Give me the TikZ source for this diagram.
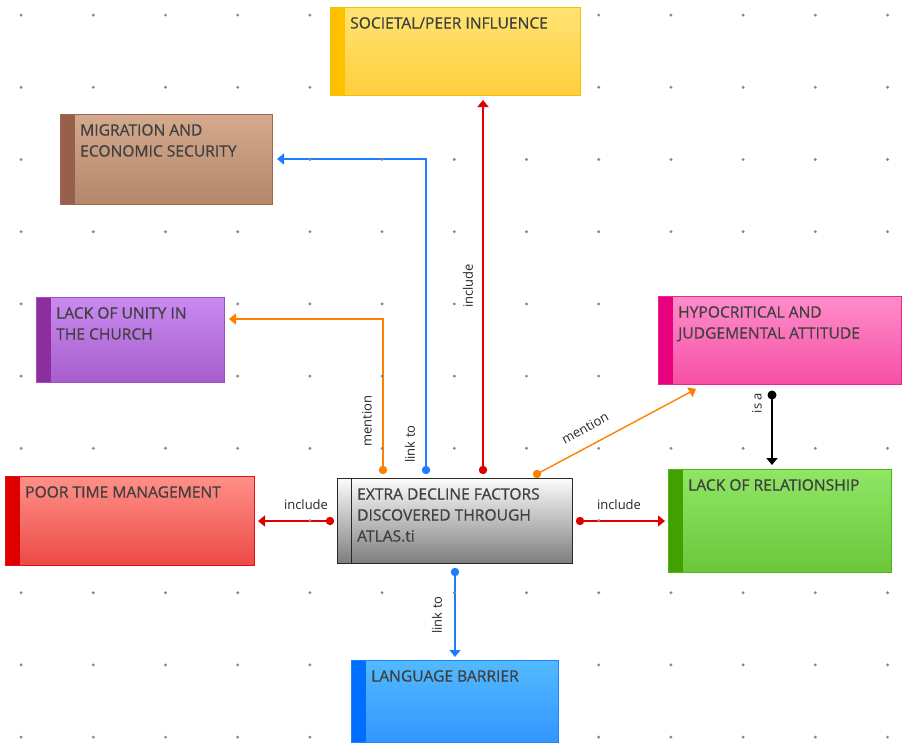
\documentclass[tikz,border=0pt]{standalone}
\usepackage{fontspec}
\setmainfont{Open Sans}
\newfontfamily\ttlfont{Open Sans}[FakeBold=0.6]
\usetikzlibrary{calc,arrows.meta}
\pgfdeclarelayer{lines}
\pgfdeclarelayer{grid}
\pgfsetlayers{lines,grid,main}
\definecolor{txtgray}{RGB}{64,64,64}
\definecolor{lnorange}{RGB}{255,128,0}
\definecolor{lnblue}{RGB}{30,125,255}
\definecolor{lnred}{RGB}{220,0,0}
\definecolor{dotgray}{RGB}{135,135,135}
% yellow
\definecolor{yB}{RGB}{245,192,0}\definecolor{yT}{RGB}{255,228,115}\definecolor{yL}{RGB}{255,206,60}\definecolor{yS}{RGB}{255,192,0}
% brown
\definecolor{bB}{RGB}{165,100,80}\definecolor{bT}{RGB}{212,170,142}\definecolor{bL}{RGB}{180,134,108}\definecolor{bS}{RGB}{150,96,76}
% purple
\definecolor{pB}{RGB}{160,80,190}\definecolor{pT}{RGB}{202,138,242}\definecolor{pL}{RGB}{166,94,202}\definecolor{pS}{RGB}{140,45,160}
% pink
\definecolor{kB}{RGB}{235,40,140}\definecolor{kT}{RGB}{255,140,202}\definecolor{kL}{RGB}{245,80,165}\definecolor{kS}{RGB}{232,0,126}
% red
\definecolor{rB}{RGB}{222,20,20}\definecolor{rT}{RGB}{255,144,136}\definecolor{rL}{RGB}{236,74,70}\definecolor{rS}{RGB}{222,0,0}
% gray
\definecolor{gB}{RGB}{40,40,40}\definecolor{gT}{RGB}{252,252,252}\definecolor{gL}{RGB}{125,125,125}
% green
\definecolor{nB}{RGB}{80,180,20}\definecolor{nT}{RGB}{142,230,100}\definecolor{nL}{RGB}{110,198,60}\definecolor{nS}{RGB}{66,160,0}
% blue
\definecolor{uB}{RGB}{30,130,255}\definecolor{uT}{RGB}{82,186,255}\definecolor{uL}{RGB}{50,150,255}\definecolor{uS}{RGB}{0,110,255}
\tikzset{
  box/.style n args={4}{rectangle, inner sep=0pt, anchor=north west, line width=1pt,
    draw=#1, top color=#2, bottom color=#3,
    path picture={\fill[#4] (path picture bounding box.north west) rectangle ([xshift=14pt]path picture bounding box.south west);}},
  ttl/.style={anchor=north west, xshift=20pt, yshift=-10pt, align=left, inner sep=0pt,
    font=\ttlfont\fontsize{15.6}{21}\selectfont, text=txtgray},
  elbl/.style={inner sep=0pt, font=\fontsize{13}{15}\selectfont, text=black!85},
  conn/.style={line width=1.4pt, -{Triangle[length=7pt,width=11pt]}},
}
\begin{document}
\begin{tikzpicture}[x=1pt,y=-1pt]
\useasboundingbox (0,0) rectangle (902,742);
% nodes
\node[box={yB}{yT}{yL}{yS},
  minimum width=250pt, minimum height=88pt, label={[ttl]north west:SOCIETAL/PEER INFLUENCE}] (soc) at (330,7) {};
\node[box={bB}{bT}{bL}{bS},
  minimum width=212pt, minimum height=90pt, label={[ttl]north west:MIGRATION AND\\ECONOMIC SECURITY}] (mig) at (60,114) {};
\node[box={pB}{pT}{pL}{pS},
  minimum width=188pt, minimum height=85pt, label={[ttl]north west:LACK OF UNITY IN\\THE CHURCH}] (uni) at (36,297) {};
\node[box={kB}{kT}{kL}{kS},
  minimum width=243pt, minimum height=88pt, label={[ttl]north west:HYPOCRITICAL AND\\JUDGEMENTAL ATTITUDE}] (hyp) at (658,296) {};
\node[box={rB}{rT}{rL}{rS},
  minimum width=249pt, minimum height=89pt, label={[ttl]north west:POOR TIME MANAGEMENT}] (poor) at (5,476) {};
\node[box={gB}{gT}{gL}{gT},
  minimum width=235pt, minimum height=85pt,
  path picture={\draw[line width=1.2pt, gB] ([xshift=14pt]path picture bounding box.north west) -- ([xshift=14pt]path picture bounding box.south west);},
  label={[ttl]north west:EXTRA DECLINE FACTORS\\DISCOVERED THROUGH\\ATLAS.ti}] (ctr) at (337,478) {};
\node[box={nB}{nT}{nL}{nS},
  minimum width=223pt, minimum height=103pt, label={[ttl]north west:LACK OF RELATIONSHIP}] (rel) at (668,469) {};
\node[box={uB}{uT}{uL}{uS},
  minimum width=207pt, minimum height=82pt, label={[ttl]north west:LANGUAGE BARRIER}] (lang) at (351,660) {};
% connector coordinates
\coordinate (s1) at ($(ctr.north west)+(46,-8)$);
\coordinate (e1) at ($(uni.north east)+(4,22)$);
\coordinate (s2) at ($(ctr.north west)+(89,-8)$);
\coordinate (e2) at ($(mig.north east)+(4,45)$);
\coordinate (s3) at ($(ctr.north west)+(146,-8)$);
\coordinate (e3) at ($(s3|-soc.south)+(0,4)$);
\coordinate (s4) at ($(ctr.north west)+(200,-4)$);
\coordinate (e4) at ($(hyp.south west)+(38,4)$);
\coordinate (s5) at ($(hyp.south west)+(114,10)$);
\coordinate (e5) at ($(s5|-rel.north)+(0,-4)$);
\coordinate (s6) at ($(ctr.east)+(7,0)$);
\coordinate (e6) at ($(rel.west)+(-3,0)$);
\coordinate (s7) at ($(ctr.west)+(-7,0)$);
\coordinate (e7) at ($(poor.east)+(3,0)$);
\coordinate (s8) at ($(ctr.south west)+(118,8)$);
\coordinate (e8) at ($(s8|-lang.north)+(0,-3)$);
\begin{pgfonlayer}{lines}
\draw[conn, lnorange] (s1) |- (e1);
\draw[conn, lnblue] (s2) |- (e2);
\draw[conn, lnred] (s3) -- (e3);
\draw[conn, lnorange] (s4) -- (e4);
\draw[conn, black, line width=2pt] (s5) -- (e5);
\draw[conn, lnred] (s6) -- (e6);
\draw[conn, lnred] (s7) -- (e7);
\draw[conn, lnblue] (s8) -- (e8);
\end{pgfonlayer}
\begin{pgfonlayer}{grid}
\foreach \i in {0,...,12}{
  \foreach \j in {0,...,10}{
    \fill[dotgray] (21.1+72.2*\i, 15.1+72.2*\j) circle (1.6pt);
  }
}
\end{pgfonlayer}
% start dots
\fill[lnorange] (s1) circle (4.2pt);
\fill[lnblue] (s2) circle (4.2pt);
\fill[lnred] (s3) circle (4.2pt);
\fill[lnorange] (s4) circle (4.2pt);
\fill[black] (s5) circle (4.5pt);
\fill[lnred] (s6) circle (4.2pt);
\fill[lnred] (s7) circle (4.2pt);
\fill[lnblue] (s8) circle (4.2pt);
% labels
\node[elbl, rotate=90] (l1) at (367,421) {mention};
\node[elbl, rotate=90] (l2) at (410,444) {link to};
\node[elbl, rotate=90] (l3) at (468,286) {include};
\node[elbl, rotate=28.5] (l4) at (585,428) {mention};
\node[elbl, rotate=90] (l5) at (757,403) {is a};
\node[elbl] (l6) at (619,505) {include};
\node[elbl] (l7) at (306,505) {include};
\node[elbl, rotate=90] (l8) at (437,615) {link to};
\end{tikzpicture}
\end{document}
